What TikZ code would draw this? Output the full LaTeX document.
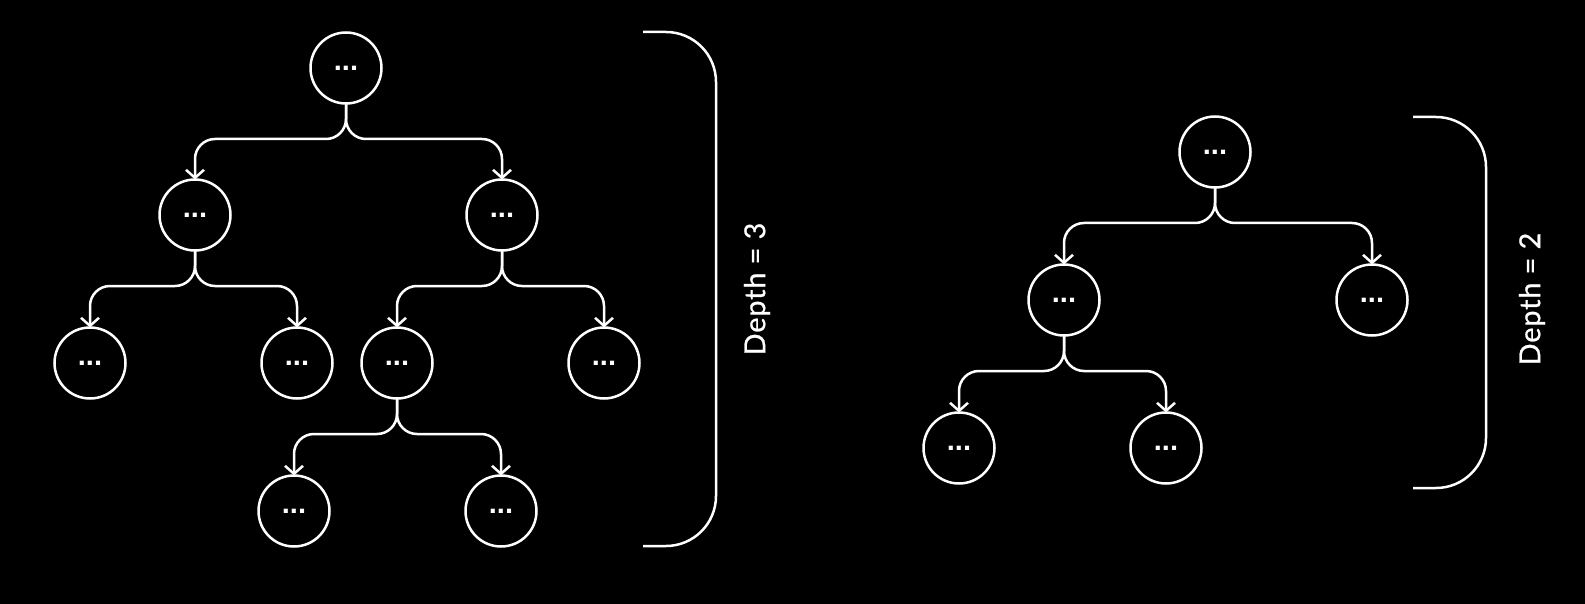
\documentclass[tikz,border=0pt]{standalone}
\usepackage{fontspec}
\setmainfont{Lato}
\newfontfamily\dotfont{Liberation Sans}
\newfontfamily\lblfont{Lato}[LetterSpace=3,FakeBold=0.8]
\usetikzlibrary{arrows.meta}
\begin{document}
\begin{tikzpicture}[x=1pt,y=-1pt,
  tn/.style={circle,draw=white,line width=2.5pt,minimum size=71pt,inner sep=0pt,outer sep=0pt,text=white,font=\dotfont\bfseries\fontsize{29}{29}\selectfont},
  conn/.style={draw=white,line width=2.5pt,rounded corners=20pt,-{Straight Barb[length=8pt,width=18pt]}},
  brk/.style={draw=white,line width=2.5pt,rounded corners=50pt},
  lbl/.style={text=white,font=\lblfont\fontsize{28.8}{28.8}\selectfont,rotate=90,inner sep=0pt}]
\fill[black] (0,0) rectangle (1585,604);
% left tree
\node[tn] (a) at (346,68) {...};
\node[tn] (b) at (195,215) {...};
\node[tn] (c) at (502,215) {...};
\node[tn] (d) at (90,363) {...};
\node[tn] (e) at (297,363) {...};
\node[tn] (f) at (397,363) {...};
\node[tn] (g) at (604,363) {...};
\node[tn] (h) at (294,511) {...};
\node[tn] (i) at (501,511) {...};
\foreach \p/\q in {a/b,a/c,b/d,b/e,c/f,c/g,f/h,f/i}
  \draw[conn] (\p.south) -- ++(0,35.5) -| (\q.north);
% right tree
\node[tn] (r) at (1215,152) {...};
\node[tn] (s) at (1064,300) {...};
\node[tn] (t) at (1372,300) {...};
\node[tn] (u) at (959,448) {...};
\node[tn] (v) at (1166,448) {...};
\foreach \p/\q in {r/s,r/t,s/u,s/v}
  \draw[conn] (\p.south) -- ++(0,35.5) -| (\q.north);
% brackets
\coordinate (b1t) at (643,32);
\coordinate (b1b) at (643,546);
\draw[brk] (b1t) -- (716,32) -- (716,546) -- (b1b);
\coordinate (b2t) at (1413,117);
\coordinate (b2b) at (1413,488);
\draw[brk] (b2t) -- (1486,117) -- (1486,488) -- (b2b);
\node[lbl] (d3) at (757,289) {Depth = 3};
\node[lbl] (d2) at (1532,299) {Depth = 2};
\end{tikzpicture}
\end{document}
